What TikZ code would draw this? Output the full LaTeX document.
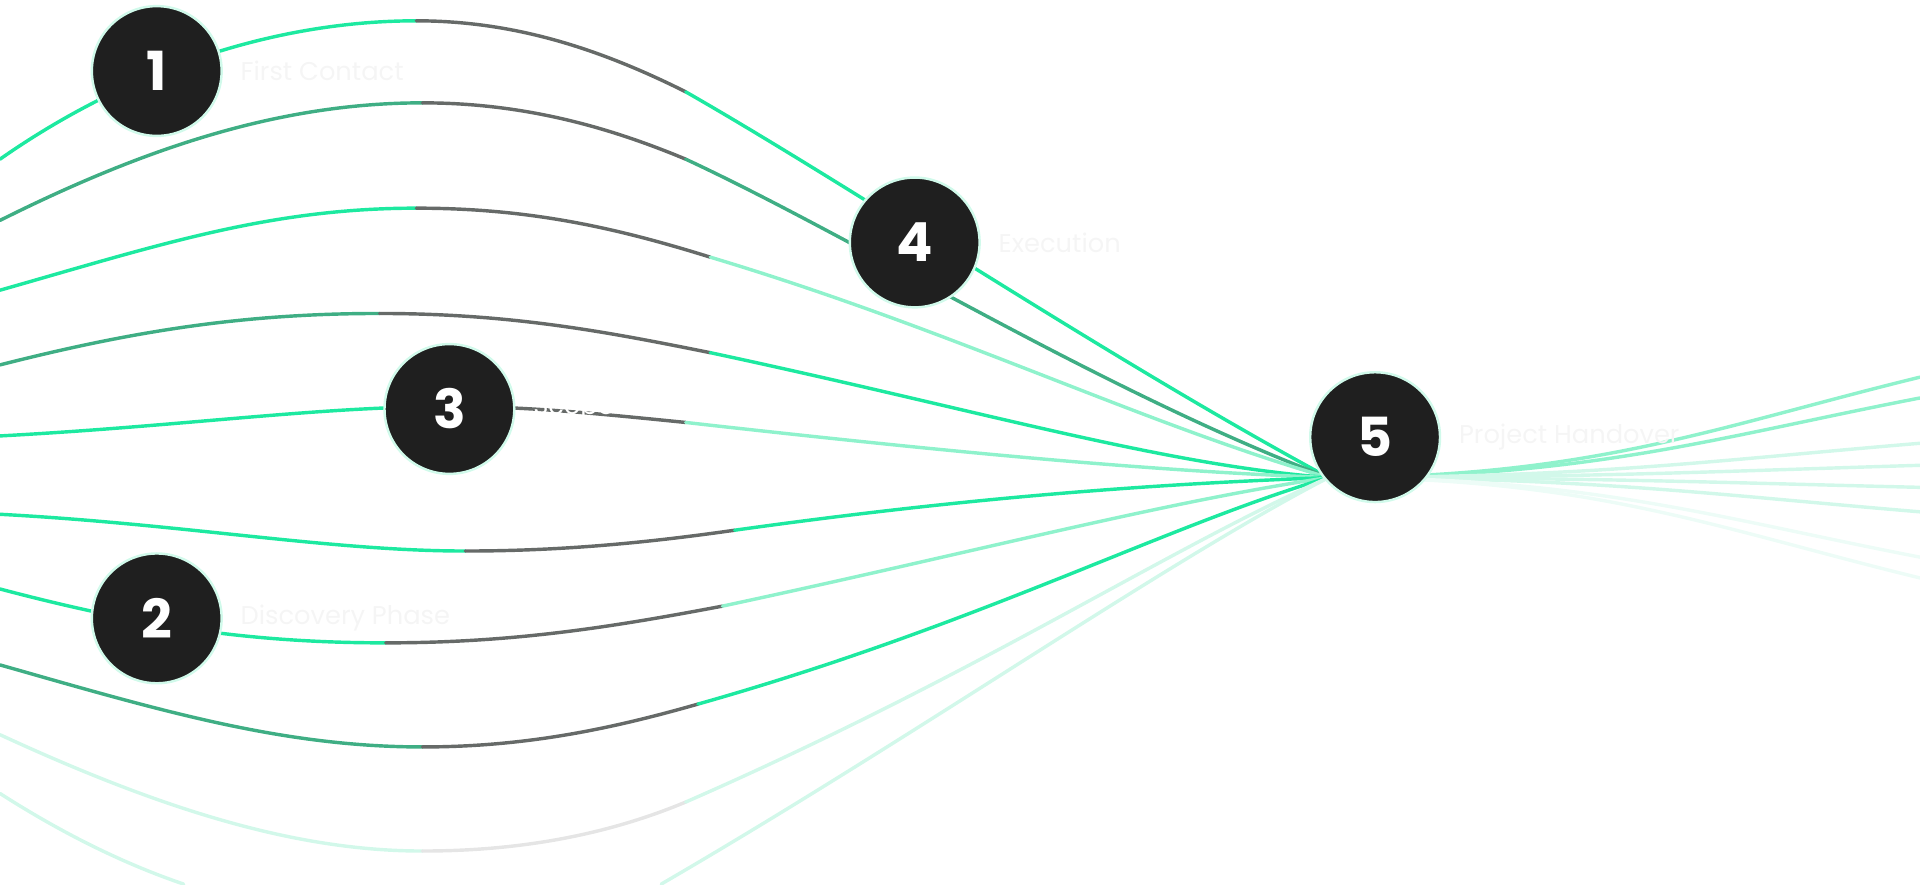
\documentclass[tikz,border=0pt]{standalone}
\usepackage{fontspec}
\setmainfont{Poppins}
\begin{document}
\begin{tikzpicture}[x=1pt,y=-1pt,
  ln/.style={line width=2.8pt,line cap=round},
  num/.style={circle,fill=black!88,minimum size=106pt,inner sep=0pt,text=white,font=\fontsize{44}{44}\selectfont\bfseries,draw=mint!35,line width=2pt},
  lab/.style={anchor=west,text=black!4,font=\fontsize{21}{21}\selectfont}]
\definecolor{gy}{HTML}{666A68}
\definecolor{gn}{HTML}{1DE9A0}
\definecolor{md}{HTML}{3FAE84}
\definecolor{lg}{HTML}{8FF2CC}
\definecolor{pl}{HTML}{D2F8EA}
\definecolor{mint}{HTML}{7CF2C6}
\useasboundingbox (0,0) rectangle (1568,722);
\coordinate (h) at (1085,390);
\draw[ln,gn] (0,130) .. controls (100,60) and (220,17) .. (340,17);
\draw[ln,gy] (340,17) .. controls (420,17) and (490,40) .. (560,75);
\draw[ln,gn] (560,75) .. controls (700,155) and (900,290) .. (h);
\draw[ln,md] (0,180) .. controls (120,120) and (230,84) .. (345,84);
\draw[ln,gy] (345,84) .. controls (430,84) and (500,105) .. (560,130);
\draw[ln,md] (560,130) .. controls (700,195) and (900,320) .. (h);
\draw[ln,gn] (0,237) .. controls (130,200) and (220,170) .. (340,170);
\draw[ln,gy] (340,170) .. controls (430,170) and (500,185) .. (580,210);
\draw[ln,lg] (580,210) .. controls (780,270) and (930,345) .. (h);
\draw[ln,md] (0,298) .. controls (110,270) and (200,256) .. (310,256);
\draw[ln,gy] (310,256) .. controls (420,256) and (500,272) .. (580,288);
\draw[ln,gn] (580,288) .. controls (800,335) and (950,380) .. (h);
\draw[ln,gn] (0,356) .. controls (150,348) and (260,332) .. (367,332);
\draw[ln,gy] (367,332) .. controls (430,332) and (480,337) .. (560,345);
\draw[ln,lg] (560,345) .. controls (800,372) and (950,385) .. (h);
\draw[ln,gn] (0,420) .. controls (150,428) and (270,450) .. (380,450);
\draw[ln,gy] (380,450) .. controls (460,450) and (530,443) .. (600,433);
\draw[ln,gn] (600,433) .. controls (800,405) and (950,395) .. (h);
\draw[ln,gn] (0,481) .. controls (110,510) and (200,525) .. (315,525);
\draw[ln,gy] (315,525) .. controls (420,525) and (500,512) .. (590,495);
\draw[ln,lg] (590,495) .. controls (800,450) and (950,410) .. (h);
\draw[ln,md] (0,543) .. controls (130,580) and (230,610) .. (345,610);
\draw[ln,gy] (345,610) .. controls (430,610) and (500,595) .. (570,575);
\draw[ln,gn] (570,575) .. controls (800,510) and (950,430) .. (h);
\draw[ln,pl] (0,600) .. controls (130,660) and (240,695) .. (345,695);
\draw[ln,black!10] (345,695) .. controls (430,695) and (500,680) .. (560,655);
\draw[ln,pl] (560,655) .. controls (800,550) and (950,450) .. (h);
\draw[ln,pl] (0,648) .. controls (50,680) and (100,705) .. (150,722);
\draw[ln,pl] (540,722) .. controls (750,600) and (950,460) .. (h);
\foreach \y/\c in {308/lg,325/lg,362/pl,380/pl,398/pl,418/pl,455/pl!40,472/pl!40}
  \draw[ln,\c] (h) .. controls (1300,390) and (1400,\y*0.5+195) .. (1568,\y);
\node[num] (n1) at (128,58) {1};
\node[num] (n2) at (128,505) {2};
\node[num] (n3) at (367,334) {3};
\node[num] (n4) at (747,198) {4};
\node[num] (n5) at (1123,357) {5};
\node[lab] at (193,58) {First Contact};
\node[lab] at (193,505) {Discovery Phase};
\node[lab,text=white] at (432,334) {Scope \& Contract};
\node[lab] at (812,198) {Execution};
\node[lab] at (1188,357) {Project Handover};
\end{tikzpicture}
\end{document}
